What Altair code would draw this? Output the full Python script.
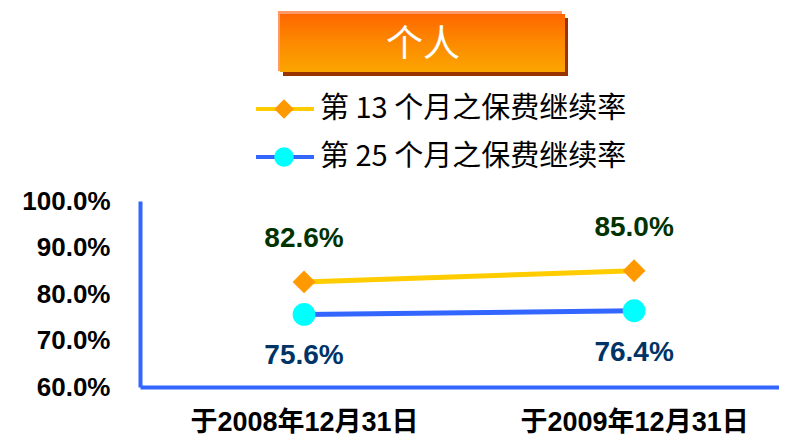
import json
import altair as alt
import pandas as pd

title_text = "个人"
categories = ["于2008年12月31日", "于2009年12月31日"]
series_names = ["第 13 个月之保费继续率", "第 25 个月之保费继续率"]
values_13 = [0.826, 0.850]
values_25 = [0.756, 0.764]
y_ticks = [0.6, 0.7, 0.8, 0.9, 1.0]

line_colors = ["#FFCC00", "#3366FF"]
marker_colors = ["#FF9900", "#00FFFF"]
marker_shapes = ["diamond", "circle"]
label_colors = ["#003300", "#003366"]

rows = []
for s, vals in zip(series_names, [values_13, values_25]):
    for i, (c, v) in enumerate(zip(categories, vals)):
        rows.append({"idx": i, "category": c, "series": s, "value": v})
df = pd.DataFrame(rows)
legend_df = pd.DataFrame({"series": series_names})
title_df = pd.DataFrame({"t": [title_text]})

W, H = 639, 186
LAT = "Liberation Sans, Arial, Noto Sans CJK SC"
CJK = "Noto Sans CJK SC"

x_scale = alt.Scale(domain=[-0.497, 1.439], nice=False, zero=False)
y_scale = alt.Scale(domain=[0.6, 1.0], nice=False, zero=False)
color_scale = alt.Scale(domain=series_names, range=line_colors)
fill_scale = alt.Scale(domain=series_names, range=marker_colors)
shape_scale = alt.Scale(domain=series_names, range=marker_shapes)

label_expr = json.dumps(categories, ensure_ascii=False) + "[datum.value]"

x_enc = alt.X(
    "idx:Q", scale=x_scale,
    axis=alt.Axis(values=[0, 1], labelExpr=label_expr, title=None, ticks=False,
                  grid=False, domainColor="#3366FF", domainWidth=4,
                  labelFont=LAT, labelFontSize=27, labelFontWeight="bold",
                  labelColor="black", labelPadding=22, labelFlush=False,
                  labelOverlap=False, labelLimit=0),
)
y_enc = alt.Y(
    "value:Q", scale=y_scale,
    axis=alt.Axis(values=y_ticks, format=".1%", title=None, ticks=False,
                  grid=False, domainColor="#3366FF", domainWidth=4,
                  labelFont=LAT, labelFontSize=26, labelFontWeight="bold",
                  labelColor="black", labelPadding=30, labelOverlap=False,
                  labelFlush=False),
)

base = alt.Chart(df)

lines = base.mark_line(strokeWidth=5).encode(
    x=x_enc, y=y_enc,
    color=alt.Color("series:N", scale=color_scale, legend=None),
    detail="series:N",
)
points = base.mark_point(filled=True, size=520, opacity=1, strokeWidth=0).encode(
    x=x_enc, y=y_enc,
    fill=alt.Fill("series:N", scale=fill_scale, legend=None),
    shape=alt.Shape("series:N", scale=shape_scale, legend=None),
)
top_labels = base.transform_filter(
    alt.datum.series == series_names[0]
).mark_text(dy=-43, fontSize=28, fontWeight="bold", font=LAT,
            color=label_colors[0]).encode(
    x=x_enc, y=y_enc, text=alt.Text("value:Q", format=".1%"),
)
bot_labels = base.transform_filter(
    alt.datum.series == series_names[1]
).mark_text(dy=42, fontSize=28, fontWeight="bold", font=LAT,
            color=label_colors[1]).encode(
    x=x_enc, y=y_enc, text=alt.Text("value:Q", format=".1%"),
)
data_layer = alt.layer(lines, points, top_labels, bot_labels)

# custom legend
leg_y = alt.Y("series:N",
              scale=alt.Scale(type="point", domain=series_names, range=[-92, -44], padding=0),
              axis=None)
leg_base = alt.Chart(legend_df)
leg_rule = leg_base.mark_rule(strokeWidth=4).encode(
    x=alt.value(116), x2=alt.value(174), y=leg_y,
    color=alt.Color("series:N", scale=color_scale, legend=None),
)
leg_pts = leg_base.mark_point(filled=True, size=380, opacity=1, strokeWidth=0).encode(
    x=alt.value(144), y=leg_y,
    fill=alt.Fill("series:N", scale=fill_scale, legend=None),
    shape=alt.Shape("series:N", scale=shape_scale, legend=None),
)
leg_text = leg_base.mark_text(align="left", baseline="middle", fontSize=29,
                              font=CJK, color="black").encode(
    x=alt.value(180), y=leg_y, text="series:N",
)
legend_layer = alt.layer(leg_rule, leg_pts, leg_text)

# title box
tb = alt.Chart(title_df)
shadow = tb.mark_rect(color="#993300").encode(
    x=alt.value(143), x2=alt.value(428), y=alt.value(-183), y2=alt.value(-125))
border = tb.mark_rect(color="#FF9966").encode(
    x=alt.value(138), x2=alt.value(422), y=alt.value(-190), y2=alt.value(-130))
box = tb.mark_rect(
    fill=alt.Gradient(gradient="linear", x1=0, x2=0, y1=0, y2=1,
                      stops=[alt.GradientStop(color="#FF6600", offset=0),
                             alt.GradientStop(color="#FC8A00", offset=0.5),
                             alt.GradientStop(color="#FCA500", offset=1)])
).encode(x=alt.value(140), x2=alt.value(425), y=alt.value(-187), y2=alt.value(-129))
title_mark = tb.mark_text(fontSize=37, font=CJK, color="white", align="center",
                          baseline="middle").encode(
    x=alt.value(283), y=alt.value(-155), text="t:N")

chart = alt.layer(
    shadow, border, box, title_mark,
    data_layer, legend_layer,
).resolve_scale(y="independent").properties(
    width=W, height=H,
    autosize=alt.AutoSizeParams(type="none"),
    padding={"left": 132, "top": 193, "right": 0, "bottom": 50},
    background="white",
).configure_view(stroke=None)

chart.save("out.html", embed_options={"renderer": "svg", "actions": False})
